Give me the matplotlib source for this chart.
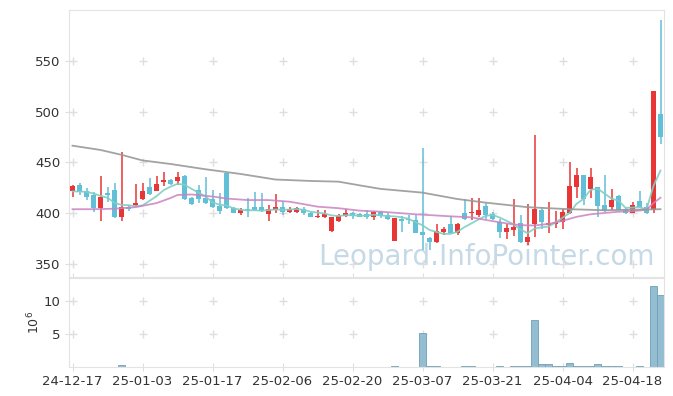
import matplotlib
matplotlib.use("Agg")
import matplotlib.pyplot as plt
import numpy as np

# x labels, one every 10 trading days
tick_labels = ["24-12-17", "25-01-03", "25-01-17", "25-02-06", "25-02-20",
               "25-03-07", "25-03-21", "25-04-04", "25-04-18"]

opens = [421.5, 428, 422, 418, 405, 419.5, 423, 396, 406.5, 408,
         414.5, 426, 422, 431, 433, 432, 437, 415.5, 423, 415.5,
         414, 407.5, 439.5, 405, 400.6, 404, 406.5, 406.5, 399.6, 403.3,
         406.5, 401.6, 401.6, 404.2, 400.6, 396, 396.7, 382.3, 392.5, 397.3,
         400.6, 399.3, 399, 396.7, 401.6, 398.3, 373, 394.4, 394.4, 393.4,
         381.9, 376, 372.1, 381.9, 389.5, 380.9, 400, 400, 398, 407.2,
         399, 391.8, 381.9, 383.5, 390.1, 372.1, 389.2, 403.3, 388.2, 389.2,
         391.8, 400, 426.2, 437.7, 423.6, 425.6, 408.2, 406.5, 417, 403.9,
         400.6, 412.1, 406.5, 403.2, 497.7]
highs = [428, 430, 425, 421, 437, 426, 429.5, 460, 408, 428.5,
         430, 435, 437, 441, 434, 441, 437.5, 416.5, 428, 435.5,
         423, 419.5, 440, 406, 405, 415, 421.3, 419.7, 408.2, 418.7,
         412.4, 406.5, 406.5, 406.5, 401.5, 403.3, 403.3, 396.7, 399, 404,
         401.5, 400, 403.3, 402.3, 402.3, 400, 395.7, 397.3, 398.3, 398.3,
         464, 377, 389.8, 386.2, 397.3, 390.2, 413.8, 414.8, 414.8, 409.8,
         401.6, 394.1, 389.5, 413.8, 398.3, 409.2, 477.1, 406.5, 411.4, 402.6,
         403.9, 450.5, 444.3, 437.7, 444.3, 425.6, 437.7, 423.6, 417.5, 405.5,
         411.4, 422, 410.5, 520.4, 590.3]
lows = [416, 418, 413, 401, 392, 411, 395, 392, 402, 407,
        413.5, 418, 422, 427, 428, 428, 413.5, 408, 410, 409,
        405, 399.5, 404.5, 400, 398, 396, 402.6, 401.6, 392, 400,
        398.6, 400, 400.5, 398.5, 396, 395.5, 395, 382, 391.5, 396,
        394.8, 396, 394.8, 393.5, 395, 393.4, 372.8, 381.6, 389.5, 380.3,
        364, 364, 371.1, 378.9, 380.3, 379, 393.4, 393.4, 396, 394.8,
        393, 375.3, 374.7, 378, 371.1, 368.8, 377, 384.5, 380.3, 385.2,
        384.5, 399.5, 414.7, 408.2, 414.7, 396.7, 401.6, 403.2, 403, 399.5,
        400, 404.9, 399.3, 400, 468.2]
closes = [427, 421, 416.5, 405, 416, 418, 396, 406, 404, 410.5,
          422, 418.7, 429, 433, 428.5, 436, 414, 409, 414, 410,
          406.5, 402.3, 405, 400.6, 403.3, 402.6, 403.3, 402.6, 404.2, 405.9,
          401.6, 403.9, 405.6, 400, 396.7, 397.3, 399.3, 396, 397.3, 400.6,
          397.3, 396.7, 396.7, 401.6, 397.3, 394.1, 395, 392.8, 393.5, 380.9,
          378.6, 372.1, 382.9, 384.2, 380.9, 389.5, 394.4, 401.6, 403.3, 398.3,
          394.5, 381.9, 385.2, 386.2, 372.1, 377, 403.9, 391.8, 390.1, 391.1,
          400.9, 426.9, 437.7, 414.1, 435.4, 407.5, 402.6, 413.1, 403.2, 400.6,
          407.8, 406.5, 400, 520.4, 475.4]

# moving average lines
ma_short = [421.5, 421.5, 421, 419.5, 417.1, 415.3, 410.3, 408.2, 408.0, 406.9,
            407.7, 412.2, 416.8, 422.6, 426.2, 429.0, 428.1, 424.1, 420.3, 416.6,
            410.7, 408.4, 407.6, 404.9, 403.5, 402.8, 403.0, 402.5, 403.2, 403.7,
            403.5, 403.6, 404.2, 403.4, 401.6, 400.7, 399.8, 397.9, 397.3, 398.1,
            398.1, 397.6, 397.7, 398.6, 397.9, 397.3, 396.9, 396.2, 394.5, 391.3,
            388.2, 383.6, 381.6, 379.7, 379.7, 381.9, 386.4, 390.1, 393.9, 397.4,
            398.4, 395.9, 392.6, 389.2, 384.0, 380.5, 384.9, 386.2, 387.0, 390.8,
            395.6, 400.2, 409.3, 414.1, 423.0, 424.3, 419.5, 414.5, 412.4, 405.4,
            405.5, 406.2, 403.6, 427.1, 442.0]
ma_mid_idx = [0, 3, 6, 9, 12, 14, 15, 17, 20, 22, 25, 28, 31, 33, 35, 38, 41, 44,
              49, 54, 57, 59, 62, 64, 66, 68, 70, 72, 74, 76, 78, 80, 82, 83, 84]
ma_mid = [404, 404, 404.5, 406, 410, 415, 418, 418.5, 416.5, 414.5, 413, 413,
          411.4, 409, 406.5, 405, 402.6, 401.6, 399, 397, 396, 393.5, 390, 388.3,
          388, 389.5, 392.5, 396.5, 399, 400.3, 401.5, 402, 403.4, 410.1, 415.3]
ma_long_idx = [0, 4, 7, 10, 14, 19, 24, 29, 34, 38, 41, 44, 50, 55, 59, 65, 71, 76, 84]
ma_long = [466.5, 462.3, 457.5, 452, 448.5, 443.3, 438.7, 433.2, 431.8, 431.1,
           427.5, 424, 420.3, 414, 410.5, 406, 404, 403, 404]

# volume in millions
volume = [0, 0, 0, 0, 0, 0, 0, 0.3, 0, 0,
          0, 0, 0, 0, 0, 0, 0, 0, 0, 0,
          0, 0, 0, 0, 0, 0, 0, 0, 0, 0,
          0, 0, 0, 0, 0, 0, 0, 0, 0, 0,
          0, 0, 0, 0, 0, 0, 0.12, 0, 0, 0,
          5.15, 0.15, 0.15, 0, 0, 0, 0.15, 0.15, 0, 0,
          0, 0.1, 0, 0.15, 0.15, 0.15, 7.1, 0.5, 0.5, 0.15,
          0.15, 0.55, 0.15, 0.15, 0.15, 0.4, 0.15, 0.15, 0.15, 0,
          0, 0.12, 0, 12.3, 10.9]

up_color = "#e83535"
down_color = "#62bfd8"
grid_color = "#dedede"
text_color = "#333333"

x = np.arange(len(closes))
o = np.array(opens)
c = np.array(closes)
colors = [up_color if cc >= oo else down_color for oo, cc in zip(o, c)]

W, H = 673, 396
fig = plt.figure(figsize=(W / 100, H / 100), dpi=100)
ax = fig.add_axes([69 / W, 1 - 277 / H, (664 - 69) / W, (277 - 10) / H])
axv = fig.add_axes([69 / W, 1 - 367 / H, (664 - 69) / W, (367 - 278) / H], sharex=ax)

# watermark
ax.text(0.985, 0.045, "Leopard.InfoPointer.com", transform=ax.transAxes,
        ha="right", va="baseline", fontsize=20, color="#c6d9e6", zorder=0)

# candles
ax.vlines(x, lows, highs, colors=colors, linewidth=1.1, zorder=2)
body = np.maximum(np.abs(c - o), 0.8)
ax.bar(x, body, bottom=np.minimum(o, c), width=0.7, color=colors, zorder=3)

# moving averages
ax.plot(x, ma_short, color="#7fcfc4", lw=1.3, alpha=0.9, zorder=4)
ax.plot(ma_mid_idx, ma_mid, color="#c983c4", lw=1.3, alpha=0.85, zorder=4)
ax.plot(ma_long_idx, ma_long, color="#999999", lw=1.3, alpha=0.9, zorder=4)

xticks = np.arange(0, 81, 10)
price_ticks = [350, 400, 450, 500, 550]
vol_ticks = [5, 10]

for xt in xticks:
    ax.plot([xt] * len(price_ticks), price_ticks, "+", color=grid_color, ms=6, zorder=1)
    axv.plot([xt] * len(vol_ticks), vol_ticks, "+", color=grid_color, ms=6, zorder=1)

ax.set_xlim(-0.5, len(closes) - 0.5)
ax.set_ylim(337.3, 600)
ax.set_yticks(price_ticks)

# volume bars
axv.bar(x, volume, width=1.0, color="#93bdd0", edgecolor="#6f9fb8", linewidth=0.6, zorder=2)
axv.set_ylim(0, 13.5)
axv.set_yticks(vol_ticks)
axv.set_ylabel(r"$10^6$", fontsize=9, color=text_color, labelpad=1)
axv.set_xticks(xticks)
axv.set_xticklabels(tick_labels)

for a in (ax, axv):
    for s in a.spines.values():
        s.set_color("#e3e3e3")
    a.tick_params(axis="both", direction="inout", length=6, color=grid_color,
                  labelcolor=text_color, labelsize=9.5, pad=3)
ax.tick_params(axis="x", labelbottom=False)

fig.savefig("out.png", dpi=100)
